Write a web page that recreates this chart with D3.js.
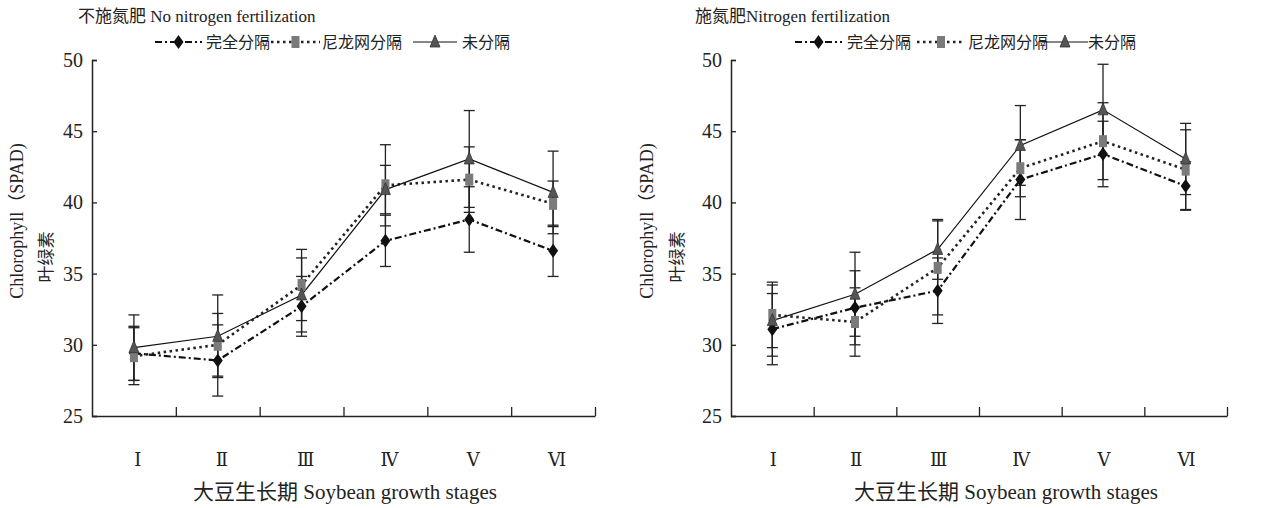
<!DOCTYPE html>
<html><head><meta charset="utf-8">
<script src="https://cdn.jsdelivr.net/npm/d3@7"></script>
<style>
html,body{margin:0;padding:0;background:#fff;}
svg{display:block;}
</style></head>
<body><svg id="chart" width="1270" height="508"></svg>
<script>
// ---------- data ----------
const stages = ["Ⅰ","Ⅱ","Ⅲ","Ⅳ","Ⅴ","Ⅵ"];
const seriesNames = ["完全分隔","尼龙网分隔","未分隔"];
const yTicks = [25,30,35,40,45,50];

// No nitrogen fertilization
const noN_complete = [29.4, 28.9, 32.7, 37.3, 38.8, 36.6];
const noN_completeErr = [1.9, 2.5, 2.1, 1.8, 2.3, 1.8];
const noN_nylon = [29.2, 30.0, 34.2, 41.2, 41.6, 39.9];
const noN_nylonErr = [2.0, 2.2, 2.5, 2.85, 2.3, 1.6];
const noN_none = [29.8, 30.6, 33.5, 40.9, 43.05, 40.7];
const noN_noneErr = [2.3, 2.9, 2.6, 1.7, 3.4, 2.9];

// Nitrogen fertilization
const N_complete = [31.1, 32.6, 33.8, 41.6, 43.4, 41.15];
const N_completeErr = [2.5, 2.6, 2.3, 2.8, 2.3, 1.7];
const N_nylon = [32.1, 31.6, 35.4, 42.4, 44.3, 42.3];
const N_nylonErr = [2.3, 2.4, 3.3, 2.0, 2.7, 2.8];
const N_none = [31.7, 33.55, 36.7, 44.0, 46.5, 43.05];
const N_noneErr = [2.5, 2.95, 2.1, 2.8, 3.2, 2.5];

const titles = ["不施氮肥 No nitrogen fertilization", "施氮肥Nitrogen fertilization"];
const xTitle = "大豆生长期 Soybean growth stages";
const yTitle1 = "Chlorophyll（SPAD)";
const yTitle2 = "叶绿素";

// ---------- layout ----------
const svg = d3.select("#chart");
const serif = "'Liberation Serif','Times New Roman','Noto Sans CJK SC',serif";
const cjk = "'Noto Sans CJK SC','Liberation Serif',sans-serif";
const roman = "'DejaVu Serif','Liberation Serif',serif";

const panels = [
  {x0:92, x1:595, title:titles[0], titleX:78, labOff:4, yT1:17, yT2:46, xtX:345,
   legend:{o:155, s:[[0,47],[116,165],[258,302]], t:[51,167,307]},
   series:[[noN_complete,noN_completeErr],[noN_nylon,noN_nylonErr],[noN_none,noN_noneErr]]},
  {x0:731, x1:1227, title:titles[1], titleX:695, labOff:1, yT1:647, yT2:677, xtX:1006,
   legend:{o:795, s:[[0,47],[122,170],[247,293]], t:[52,173,293]},
   series:[[N_complete,N_completeErr],[N_nylon,N_nylonErr],[N_none,N_noneErr]]}
];
const yTop = 60, yBot = 416;

const styles = [
  {dash:"7,3,2,3", width:2.2, color:"#111"},
  {dash:"2.5,3.5", width:2.6, color:"#222"},
  {dash:null, width:1.2, color:"#111"}
];

function marker(g, type, x, y){
  if(type===0){
    g.append("path").attr("d",`M${x},${y-7}L${x+5},${y}L${x},${y+7}L${x-5},${y}Z`)
     .attr("fill","#111");
  } else if(type===1){
    g.append("rect").attr("x",x-4).attr("y",y-6).attr("width",8).attr("height",12)
     .attr("fill","#7a7a7a");
  } else {
    g.append("path").attr("d",`M${x},${y-7}L${x+5},${y+5}L${x-5},${y+5}Z`)
     .attr("fill","#555").attr("stroke","#333").attr("stroke-width",0.8);
  }
}

panels.forEach(p=>{
  const g = svg.append("g");
  const x = d3.scaleBand().domain(stages).range([p.x0,p.x1]).paddingInner(0).paddingOuter(0);
  const y = d3.scaleLinear().domain([25,50]).range([yBot,yTop]);
  const cx = s => x(s)+x.bandwidth()/2;

  // y axis
  const ya = g.append("g").attr("transform",`translate(${p.x0},0)`)
    .call(d3.axisRight(y).tickValues(yTicks).tickSize(5).tickFormat(""));
  ya.select(".domain").attr("stroke","#222").attr("stroke-width",1.5);
  ya.selectAll(".tick line").attr("stroke","#222").attr("stroke-width",1.3);
  yTicks.forEach(v=>{
    g.append("text").attr("x",p.x0-9).attr("y",y(v)).attr("dy","0.35em")
     .attr("text-anchor","end").attr("font-family",serif).attr("font-size",20)
     .attr("fill","#222").text(v);
  });

  // x axis : ticks at band boundaries, pointing up
  const xb = d3.scaleLinear().domain([0,stages.length]).range([p.x0,p.x1]);
  const xa = g.append("g").attr("transform",`translate(0,${yBot})`)
    .call(d3.axisTop(xb).tickValues(d3.range(1,stages.length+1)).tickSize(9).tickFormat("").tickSizeOuter(0));
  xa.select(".domain").attr("stroke","#222").attr("stroke-width",1.5);
  xa.selectAll(".tick line").attr("stroke","#222").attr("stroke-width",1.3);
  stages.forEach(s=>{
    g.append("text").attr("x",cx(s)+p.labOff).attr("y",460).attr("dy","0.35em")
     .attr("text-anchor","middle").attr("font-family",roman).attr("font-size",18)
     .attr("fill","#222").text(s);
  });

  // titles
  g.append("text").attr("x",p.titleX).attr("y",22).attr("font-family",serif)
   .attr("font-size",17).attr("fill","#222").text(p.title);
  g.append("text").attr("x",p.xtX).attr("y",499).attr("text-anchor","middle")
   .attr("font-family",serif).attr("font-size",21).attr("fill","#222").text(xTitle);
  g.append("text").attr("transform",`translate(${p.yT1},221) rotate(-90)`).attr("dy","0.35em")
   .attr("text-anchor","middle").attr("font-family",serif).attr("font-size",18)
   .attr("fill","#222").text(yTitle1);
  g.append("text").attr("transform",`translate(${p.yT2},257) rotate(-90)`).attr("dy","0.35em")
   .attr("text-anchor","middle").attr("font-family",cjk).attr("font-size",17)
   .attr("fill","#222").text(yTitle2);

  // error bars
  p.series.forEach(([vals,errs])=>{
    vals.forEach((v,i)=>{
      const xx = cx(stages[i]);
      const t = y(v+errs[i]), b = y(v-errs[i]);
      g.append("line").attr("x1",xx).attr("x2",xx).attr("y1",t).attr("y2",b)
       .attr("stroke","#222").attr("stroke-width",1.3);
      [t,b].forEach(yy=>g.append("line").attr("x1",xx-5.5).attr("x2",xx+5.5)
        .attr("y1",yy).attr("y2",yy).attr("stroke","#222").attr("stroke-width",1.3));
    });
  });

  // lines
  p.series.forEach(([vals],k)=>{
    const line = d3.line().x((d,i)=>cx(stages[i])).y(d=>y(d));
    g.append("path").datum(vals).attr("d",line).attr("fill","none")
     .attr("stroke",styles[k].color).attr("stroke-width",styles[k].width)
     .attr("stroke-dasharray",styles[k].dash);
  });

  // markers
  p.series.forEach(([vals],k)=>{
    vals.forEach((v,i)=>marker(g,k,cx(stages[i]),y(v)));
  });

  // legend
  const ly = 42;
  seriesNames.forEach((name,k)=>{
    const [a,b] = p.legend.s[k];
    const xa0 = p.legend.o+a, xb0 = p.legend.o+b;
    g.append("line").attr("x1",xa0).attr("x2",xb0).attr("y1",ly).attr("y2",ly)
     .attr("stroke",styles[k].color).attr("stroke-width",styles[k].width)
     .attr("stroke-dasharray",styles[k].dash);
    marker(g,k,(xa0+xb0)/2,ly);
    g.append("text").attr("x",p.legend.o+p.legend.t[k]).attr("y",ly).attr("dy","0.36em")
     .attr("font-family",cjk).attr("font-size",16).attr("fill","#222").text(name);
  });
});
</script>
</body></html>
